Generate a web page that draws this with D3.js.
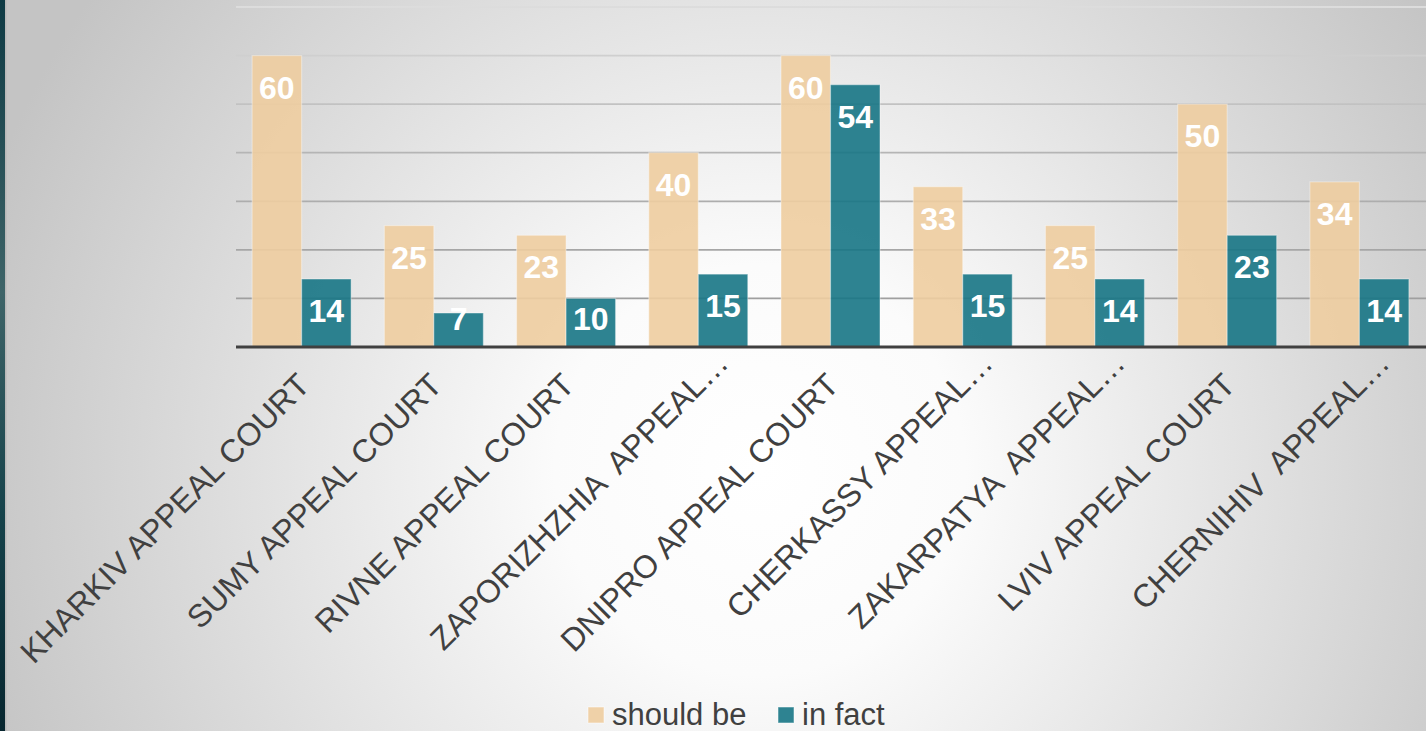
<!DOCTYPE html>
<html>
<head>
<meta charset="utf-8">
<script src="https://cdn.jsdelivr.net/npm/d3@7"></script>
<style>
  html, body { margin: 0; padding: 0; overflow: hidden; background: #d0d0d0; }
  svg { display: block; font-family: "Liberation Sans", Arial, sans-serif; }
</style>
</head>
<body>
<svg id="chart"></svg>
<script>
// data
const categories = [
    "KHARKIV APPEAL COURT",
    "SUMY APPEAL COURT",
    "RIVNE APPEAL COURT",
    "ZAPORIZHZHIA  APPEAL\u2026",
    "DNIPRO APPEAL COURT",
    "CHERKASSY APPEAL\u2026",
    "ZAKARPATYA  APPEAL\u2026",
    "LVIV APPEAL COURT",
    "CHERNIHIV  APPEAL\u2026"
];
const seriesNames = ["should be", "in fact"];
const shouldBe = [60, 25, 23, 40, 60, 33, 25, 50, 34];
const inFact = [14, 7, 10, 15, 54, 15, 14, 23, 14];
const yTicks = [0, 10, 20, 30, 40, 50, 60, 70];

const colors = { "should be": "#eecda0", "in fact": "#177585" };

const width = 1426, height = 731;
const svg = d3.select("#chart")
    .attr("width", width)
    .attr("height", height);

const defs = svg.append("defs");

// background: soft radial grey
const bg = defs.append("radialGradient")
    .attr("id", "bg")
    .attr("gradientUnits", "userSpaceOnUse")
    .attr("cx", 760).attr("cy", 470).attr("r", 820);
bg.append("stop").attr("offset", "0").attr("stop-color", "#ffffff");
bg.append("stop").attr("offset", "0.25").attr("stop-color", "#fbfbfb");
bg.append("stop").attr("offset", "1").attr("stop-color", "#c4c4c4");

// grid lines get darker toward the baseline
const gridGrad = defs.append("linearGradient")
    .attr("id", "gridGrad")
    .attr("gradientUnits", "userSpaceOnUse")
    .attr("x1", 0).attr("x2", 0).attr("y1", 0).attr("y2", 347);
gridGrad.append("stop").attr("offset", "0").attr("stop-color", "#dedede");
gridGrad.append("stop").attr("offset", "0.45").attr("stop-color", "#b4b4b4");
gridGrad.append("stop").attr("offset", "1").attr("stop-color", "#989898");

const strip = defs.append("linearGradient")
    .attr("id", "strip")
    .attr("x1", 0).attr("x2", 0).attr("y1", 0).attr("y2", 1);
strip.append("stop").attr("offset", "0").attr("stop-color", "#0e3a44");
strip.append("stop").attr("offset", "0.4").attr("stop-color", "#3e6468");
strip.append("stop").attr("offset", "0.7").attr("stop-color", "#16434b");
strip.append("stop").attr("offset", "1").attr("stop-color", "#07262f");

svg.append("rect")
    .attr("width", width).attr("height", height)
    .attr("fill", "url(#bg)");

svg.append("rect")
    .attr("x", 0).attr("y", 0).attr("width", 5).attr("height", height)
    .attr("fill", "url(#strip)");
svg.append("rect")
    .attr("x", 5).attr("y", 0).attr("width", 1.5).attr("height", height)
    .attr("fill", "#b8b8b8");

const x0 = d3.scaleBand()
    .domain(categories)
    .range([235.5, 1425.5])
    .paddingInner(0.2514)
    .paddingOuter(0.1257);

const x1 = d3.scaleBand()
    .domain(seriesNames)
    .range([0, x0.bandwidth()]);

const y = d3.scaleLinear()
    .domain([0, 70])
    .range([347, 7]);

// gridlines
svg.append("g")
    .selectAll("line")
    .data(yTicks.filter(t => t > 0))
    .join("line")
    .attr("x1", 236)
    .attr("x2", width)
    .attr("y1", d => y(d))
    .attr("y2", d => y(d))
    .attr("stroke", "url(#gridGrad)")
    .attr("stroke-width", 1.8);

const rows = categories.map((c, i) => ({
    name: c,
    values: [
        { key: "should be", value: shouldBe[i] },
        { key: "in fact", value: inFact[i] }
    ]
}));

const group = svg.append("g")
    .selectAll("g")
    .data(rows)
    .join("g")
    .attr("transform", d => `translate(${x0(d.name)},0)`);

group.selectAll("rect")
    .data(d => d.values)
    .join("rect")
    .attr("x", d => x1(d.key))
    .attr("y", d => y(d.value))
    .attr("width", x1.bandwidth())
    .attr("height", d => y(0) - y(d.value))
    .attr("fill", d => colors[d.key])
    .attr("fill-opacity", 0.9)
    .attr("stroke", "#ffffff")
    .attr("stroke-opacity", 0.35)
    .attr("stroke-width", 1.2);

// value labels, inside end, pushed up when the bar is short
group.selectAll("text")
    .data(d => d.values)
    .join("text")
    .attr("x", d => x1(d.key) + x1.bandwidth() / 2)
    .attr("y", d => Math.min(y(d.value) + 43, 330))
    .attr("text-anchor", "middle")
    .attr("fill", "#ffffff")
    .attr("font-weight", "bold")
    .attr("font-size", 32)
    .text(d => d.value);

// axis line
svg.append("line")
    .attr("x1", 236).attr("x2", width)
    .attr("y1", y(0)).attr("y2", y(0))
    .attr("stroke", "#404040")
    .attr("stroke-width", 3);

// category labels
svg.append("g")
    .selectAll("text")
    .data(categories)
    .join("text")
    .attr("transform", d => `translate(${x0(d) + x0.bandwidth() / 2 + 10},${y(0) + 40}) rotate(-45)`)
    .attr("x", d => d.endsWith("\u2026") ? 31 : 0)
    .attr("text-anchor", "end")
    .attr("fill", "#404040")
    .attr("font-size", 32)
    .style("white-space", "pre")
    .text(d => d);

// legend
const legend = svg.append("g");
const legendItems = [
    { key: "should be", x: 588 },
    { key: "in fact", x: 778 }
];
legend.selectAll("rect")
    .data(legendItems)
    .join("rect")
    .attr("x", d => d.x)
    .attr("y", 707)
    .attr("width", 16)
    .attr("height", 16)
    .attr("fill", d => colors[d.key])
    .attr("fill-opacity", 0.9)
    .attr("stroke", "#ffffff")
    .attr("stroke-opacity", 0.5);
legend.selectAll("text")
    .data(legendItems)
    .join("text")
    .attr("x", d => d.x + 24)
    .attr("y", 725)
    .attr("fill", "#404040")
    .attr("font-size", 31)
    .text(d => d.key);
</script>
</body>
</html>
